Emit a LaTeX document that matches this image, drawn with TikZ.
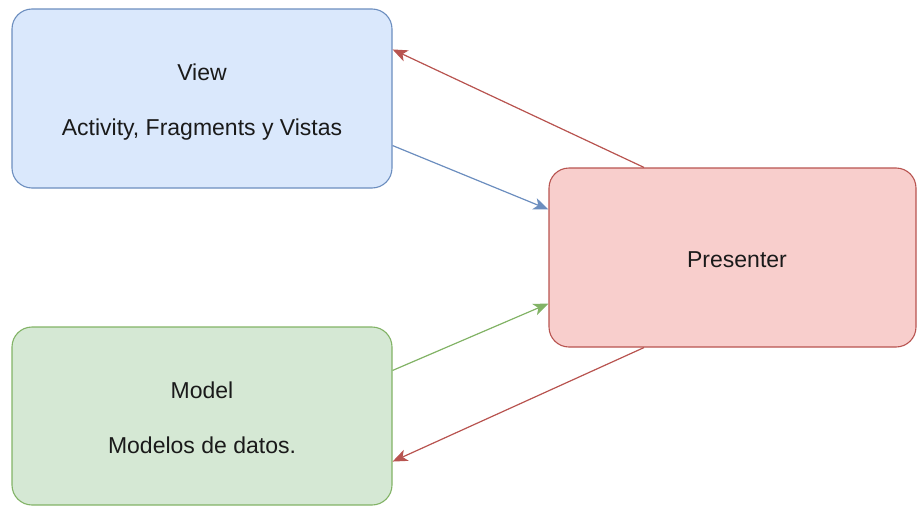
\documentclass[tikz,border=0pt]{standalone}
\usepackage{fontspec}
\setmainfont{Liberation Sans}
\usetikzlibrary{arrows.meta,calc}

\definecolor{viewfill}{HTML}{DAE8FC}
\definecolor{viewline}{HTML}{6C8EBF}
\definecolor{presfill}{HTML}{F8CECC}
\definecolor{presline}{HTML}{B85450}
\definecolor{modelfill}{HTML}{D5E8D4}
\definecolor{modelline}{HTML}{82B366}
\definecolor{txt}{HTML}{1A1A1A}

\tikzset{
  box/.style={rectangle, rounded corners=20pt, inner sep=0pt, line width=1.1pt},
  lbl/.style={anchor=base, inner sep=0pt, text=txt, font=\fontsize{23}{28}\selectfont},
  link/.style={line width=1.2pt, -{Stealth[length=15pt,width=12pt,inset=4pt]}},
}

\begin{document}
\begin{tikzpicture}[x=1pt,y=-1pt]
  \useasboundingbox (0,0) rectangle (917,506);

  % the three components
  \node[box, draw=viewline, fill=viewfill, minimum width=380pt, minimum height=179pt]
    (view) at (202,98.5) {};
  \node[box, draw=presline, fill=presfill, minimum width=367pt, minimum height=179pt]
    (pres) at (732.5,257.5) {};
  \node[box, draw=modelline, fill=modelfill, minimum width=380pt, minimum height=178pt]
    (model) at (202,416) {};

  % labels
  \node[lbl] (viewT) at (202,80) {View};
  \node[lbl] (viewS) at (202,135) {Activity, Fragments y Vistas};
  \node[lbl] (presT) at (737,267) {Presenter};
  \node[lbl] (modelT) at (202,398) {Model};
  \node[lbl] (modelS) at (202,453) {Modelos de datos.};

  % attachment points on the box borders
  \coordinate (pTop) at ([xshift=-88.5pt]pres.north);
  \coordinate (pBot) at ([xshift=-88.5pt]pres.south);
  \coordinate (pL1)  at ([yshift=-42pt]pres.north west);
  \coordinate (pL2)  at ([yshift=44pt]pres.south west);
  \coordinate (vR1)  at ([yshift=-41pt]view.north east);
  \coordinate (vR2)  at ([yshift=43pt]view.south east);
  \coordinate (mR1)  at ([yshift=-44pt]model.north east);
  \coordinate (mR2)  at ([yshift=44pt]model.south east);

  % interactions
  \draw[link, draw=presline, fill=presline] (pTop) -- (vR1);
  \draw[link, draw=viewline, fill=viewline] (vR2) -- (pL1);
  \draw[link, draw=modelline, fill=modelline] (mR1) -- (pL2);
  \draw[link, draw=presline, fill=presline] (pBot) -- (mR2);
\end{tikzpicture}
\end{document}
